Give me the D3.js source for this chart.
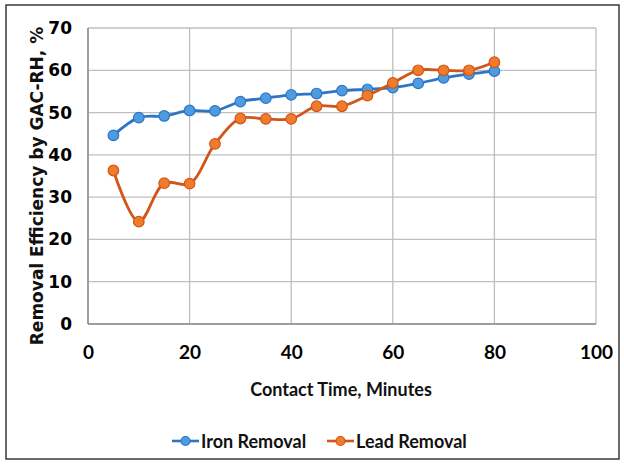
<!DOCTYPE html>
<html>
<head>
<meta charset="utf-8">
<script src="https://cdn.jsdelivr.net/npm/d3@7"></script>
<style>
  body { margin: 0; background: #fff; }
  .narrow { font-family: Lato, "Liberation Sans Narrow", sans-serif; font-weight: bold; }
</style>
</head>
<body>
<div id="chart"></div>
<script>
var times = [5, 10, 15, 20, 25, 30, 35, 40, 45, 50, 55, 60, 65, 70, 75, 80];
var ironRemoval = [44.6, 48.8, 49.2, 50.5, 50.4, 52.6, 53.4, 54.2, 54.5, 55.2, 55.5, 55.9, 56.9, 58.2, 59.1, 59.8];
var leadRemoval = [36.3, 24.2, 33.3, 33.2, 42.6, 48.6, 48.5, 48.5, 51.5, 51.5, 54.0, 57.0, 60.0, 60.0, 60.0, 61.9];
var xTicks = [0, 20, 40, 60, 80, 100];
var yTicks = [0, 10, 20, 30, 40, 50, 60, 70];
var seriesNames = ["Iron Removal", "Lead Removal"];

var W = 624, H = 465;
var margin = {top: 28, right: 28, bottom: 141, left: 88},
    width = W - margin.left - margin.right,
    height = H - margin.top - margin.bottom;

var svg = d3.select('#chart').append('svg')
    .attr('width', W)
    .attr('height', H);

// outer frame
svg.append('rect')
    .attr('x', 6).attr('y', 5)
    .attr('width', 613).attr('height', 454)
    .attr('fill', 'none')
    .attr('stroke', '#3a3a3a')
    .attr('stroke-width', 1.5);

var x = d3.scaleLinear().domain([0, 100]).range([0, width]);
var y = d3.scaleLinear().domain([0, 70]).range([height, 0]);

var g = svg.append('g')
    .attr('transform', 'translate(' + margin.left + ',' + margin.top + ')');

// grid
g.selectAll('.hgrid').data(yTicks).enter().append('line')
    .attr('x1', 0).attr('x2', width)
    .attr('y1', function(d) { return y(d); })
    .attr('y2', function(d) { return y(d); })
    .attr('stroke', '#bfbfbf').attr('stroke-width', 1.3);
g.selectAll('.vgrid').data(xTicks).enter().append('line')
    .attr('y1', 0).attr('y2', height)
    .attr('x1', function(d) { return x(d); })
    .attr('x2', function(d) { return x(d); })
    .attr('stroke', '#bfbfbf').attr('stroke-width', 1.3);

// axis lines
g.append('line').attr('x1', 0).attr('x2', width).attr('y1', height).attr('y2', height)
    .attr('stroke', '#8c8c8c').attr('stroke-width', 1.5);
g.append('line').attr('x1', 0).attr('x2', 0).attr('y1', 0).attr('y2', height)
    .attr('stroke', '#8c8c8c').attr('stroke-width', 1.5);

// y tick labels
var yAxis = d3.axisLeft(y).tickValues(yTicks).tickSize(0).tickPadding(16);
g.append('g').call(yAxis)
    .call(function(s) { s.select('.domain').remove(); })
    .selectAll('text')
    .attr('font-family', '"DejaVu Sans", sans-serif')
    .attr('font-weight', 'bold')
    .attr('font-size', 17)
    .attr('fill', '#000');

// x tick labels
var xAxis = d3.axisBottom(x).tickValues(xTicks).tickSize(0).tickPadding(22);
g.append('g').attr('transform', 'translate(0,' + height + ')').call(xAxis)
    .call(function(s) { s.select('.domain').remove(); })
    .selectAll('text')
    .attr('class', 'narrow')
    .attr('font-size', 19)
    .attr('fill', '#000');

// axis titles
svg.append('text')
    .attr('class', 'narrow')
    .attr('x', margin.left + width / 2 - 1)
    .attr('y', 396)
    .attr('text-anchor', 'middle')
    .attr('font-size', 18)
    .attr('fill', '#111')
    .text('Contact Time, Minutes');

svg.append('text')
    .attr('transform', 'translate(43,' + (margin.top + height / 2 + 10) + ') rotate(-90)')
    .attr('text-anchor', 'middle')
    .attr('font-family', '"DejaVu Sans", sans-serif')
    .attr('font-weight', 'bold')
    .attr('font-size', 17)
    .attr('fill', '#111')
    .text('Removal Efficiency by GAC-RH, %');

// series
var series = [
  {name: seriesNames[0], values: ironRemoval, line: '#2e75c6', fill: '#4f9be0'},
  {name: seriesNames[1], values: leadRemoval, line: '#d0561a', fill: '#f07b2a'}
];

var line = d3.line()
    .x(function(d) { return x(d[0]); })
    .y(function(d) { return y(d[1]); })
    .curve(d3.curveCatmullRom.alpha(0.5));

series.forEach(function(s) {
  var pts = times.map(function(t, i) { return [t, s.values[i]]; });
  g.append('path')
    .datum(pts)
    .attr('d', line)
    .attr('fill', 'none')
    .attr('stroke', s.line)
    .attr('stroke-width', 2.8);
  g.selectAll(null).data(pts).enter().append('circle')
    .attr('cx', function(d) { return x(d[0]); })
    .attr('cy', function(d) { return y(d[1]); })
    .attr('r', 5.3)
    .attr('fill', s.fill)
    .attr('stroke', s.line)
    .attr('stroke-width', 1.2);
});

// legend
var legendX = [172, 327];
series.forEach(function(s, i) {
  var lg = svg.append('g').attr('transform', 'translate(' + legendX[i] + ',441)');
  lg.append('line').attr('x1', 0).attr('x2', 27).attr('y1', 0).attr('y2', 0)
    .attr('stroke', s.line).attr('stroke-width', 2.6);
  lg.append('circle').attr('cx', 13.5).attr('cy', 0).attr('r', 4.5)
    .attr('fill', s.fill).attr('stroke', s.line).attr('stroke-width', 1.2);
  lg.append('text')
    .attr('class', 'narrow')
    .attr('x', 29).attr('y', 7)
    .attr('font-size', 18)
    .attr('fill', '#111')
    .text(s.name);
});
</script>
</body>
</html>
